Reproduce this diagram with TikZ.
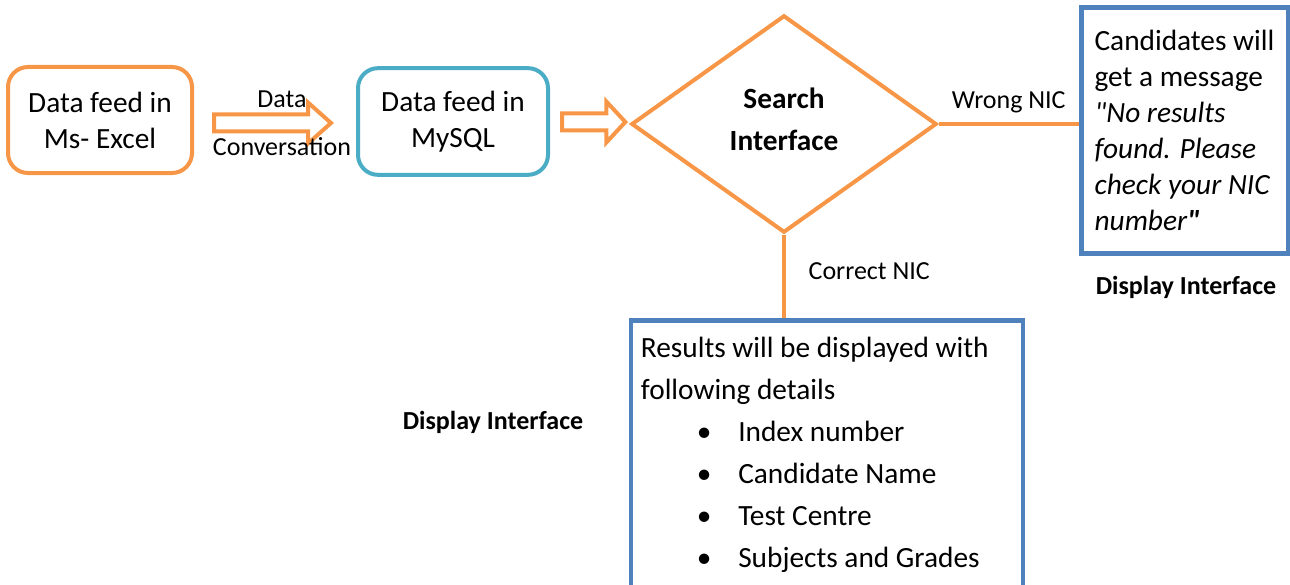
\documentclass[tikz,border=0pt]{standalone}
\usepackage{fontspec}
\setmainfont{Carlito}[Ligatures=TeXOff]
\usetikzlibrary{shapes.geometric, calc, positioning}

\definecolor{feedorange}{HTML}{F79646}
\definecolor{sqlblue}{HTML}{4BACC6}
\definecolor{dispblue}{HTML}{4F81BD}

\newcommand{\bigtext}{\fontsize{22}{27}\selectfont}
\newcommand{\smalltext}{\fontsize{19.5}{23}\selectfont}
\newcommand{\listitem}[1]{\makebox[73pt][l]{\hspace{42pt}\textbullet}#1}
\newcommand{\blockarrow}[3]{%
  \draw[blockarr] ($(#1)+(0,-8.5)$) -- ($(#2)+(-#3,-8.5)$) -- ($(#2)+(-#3,-20.5)$)
    -- (#2) -- ($(#2)+(-#3,20.5)$) -- ($(#2)+(-#3,8.5)$) -- ($(#1)+(0,8.5)$) -- cycle;}

\begin{document}
\begin{tikzpicture}
      [x=0.75pt, y=-0.75pt,
      feedbox/.style={draw=feedorange, line width=3pt, rounded corners=15pt, align=center, font=\bigtext},
      sqlbox/.style={feedbox, draw=sqlblue},
      decision/.style={diamond, draw=feedorange, line width=3pt, align=center, inner sep=0,
        text depth=7.5pt, font={\fontsize{22}{31.5}\selectfont\bfseries}},
      dispbox/.style={rectangle, draw=dispblue, line width=3.5pt},
      link/.style={draw=feedorange, line width=3pt},
      blockarr/.style={draw=feedorange, line width=3pt, line join=miter},
      lbl/.style={font=\smalltext, inner sep=0},
      dlbl/.style={font=\smalltext\bfseries, inner sep=0}]
      \useasboundingbox (0,0) rectangle (1290,585);
      \clip (0,0) rectangle (1290,585);
      % boxes
      \node[feedbox, minimum width=138pt, minimum height=79.5pt] (excel) at (100,120) {Data feed in\\Ms- Excel};
      \node[sqlbox, minimum width=142.5pt, minimum height=80pt] (mysql) at (453,121.5) {Data feed in\\MySQL};
      \node[decision, minimum width=229pt, minimum height=163pt] (search) at (784,124) {Search\\Interface};
      \node[dispbox, minimum width=155pt, minimum height=184pt, align=left, font=\bigtext] (wrongbox) at (1184.5,130.5)
      {Candidates will\\get a message\\\textit{"No results}\\\textit{found. Please}\\\textit{check your NIC}\\\textit{number}\textbf{\textit{"}}};
      \node[dispbox, anchor=north, minimum width=294pt, minimum height=212pt] (results) at (827,318) {};
      \node[anchor=north west, align=left, inner sep=0, font={\fontsize{22}{31.5}\selectfont}] (resultstext)
      at ($(results.north west)+(12,19)$)
      {Results will be displayed with\\following details\\\listitem{Index number}\\\listitem{Candidate Name}\\
      \listitem{Test Centre}\\\listitem{Subjects and Grades}};
      % block arrows
      \coordinate (conv from) at ($(excel.east)+(20,3)$);
      \coordinate (conv to) at ($(mysql.west)+(-25,1.5)$);
      \coordinate (feed from) at ($(mysql.east)+(12,0.5)$);
      \coordinate (feed to) at ($(search.west)+(-4,-2)$);
      \blockarrow{conv from}{conv to}{23}
      \blockarrow{feed from}{feed to}{19}
      \node[lbl] (datalbl) at (282,99) {Data};
      \node[lbl] (convlbl) at (282,147) {Conversation};
      % decisions
      \draw[link] (search.east) -- node[lbl, above=7pt] {Wrong NIC} (search.east -| wrongbox.west);
      \draw[link] (search.south) -- node[lbl, right=17pt, yshift=4pt] {Correct NIC} (search.south |- results.north);
      \node[dlbl] (dispright) at (1186,287) {Display Interface};
      \node[dlbl] (displeft) at (493,422) {Display Interface};
    \end{tikzpicture}
\end{document}
